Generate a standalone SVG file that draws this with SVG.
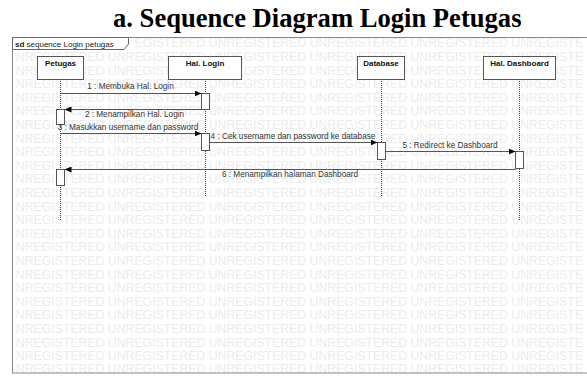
<svg xmlns="http://www.w3.org/2000/svg" width="587" height="376" viewBox="0 0 587 376">
<style>
.wm{font-family:"Liberation Sans",Arial,sans-serif;font-size:12.27px;fill:#ececec}
.title{font-family:"Liberation Serif","Times New Roman",serif;font-size:26.6px;font-weight:bold;fill:#000}
.box{fill:#fff;stroke:#555;stroke-width:1}
.lbl{font-family:"Liberation Sans",Arial,sans-serif;font-size:8px;font-weight:bold;fill:#111;text-anchor:middle}
.life{stroke:#444;stroke-width:1;stroke-dasharray:1,1;fill:none}
.act{fill:#fff;stroke:#555;stroke-width:1}
.msg{stroke:#555;stroke-width:1;fill:none;marker-end:url(#ah)}
.mt{font-family:"Liberation Sans",Arial,sans-serif;font-size:8.2px;fill:#333;text-anchor:middle}
.tab{font-family:"Liberation Sans",Arial,sans-serif;font-size:8px;fill:#222}
</style>
<defs>
<marker id="ah" markerUnits="userSpaceOnUse" markerWidth="7" markerHeight="6" refX="7" refY="3" orient="auto"><path d="M0,0 L7,3 L0,6 z" fill="#000"/></marker>
</defs>
<rect width="587" height="376" fill="#fff"/>
<text class="title" x="113" y="27">a. Sequence Diagram Login Petugas</text>
<g id="watermark">
<text class="wm" x="134.5" y="47.4">EGISTERED UNREGISTERED UNREGISTERED UNREGISTERED UNREGISTE</text>
<text class="wm" x="15.86" y="61">NREGISTERED UNREGISTERED UNREGISTERED UNREGISTERED UNREGISTERED UNREGISTE</text>
<text class="wm" x="15.86" y="74.6">NREGISTERED UNREGISTERED UNREGISTERED UNREGISTERED UNREGISTERED UNREGISTE</text>
<text class="wm" x="15.86" y="88.2">NREGISTERED UNREGISTERED UNREGISTERED UNREGISTERED UNREGISTERED UNREGISTE</text>
<text class="wm" x="15.86" y="101.8">NREGISTERED UNREGISTERED UNREGISTERED UNREGISTERED UNREGISTERED UNREGISTE</text>
<text class="wm" x="15.86" y="115.4">NREGISTERED UNREGISTERED UNREGISTERED UNREGISTERED UNREGISTERED UNREGISTE</text>
<text class="wm" x="15.86" y="129">NREGISTERED UNREGISTERED UNREGISTERED UNREGISTERED UNREGISTERED UNREGISTE</text>
<text class="wm" x="15.86" y="142.6">NREGISTERED UNREGISTERED UNREGISTERED UNREGISTERED UNREGISTERED UNREGISTE</text>
<text class="wm" x="15.86" y="156.2">NREGISTERED UNREGISTERED UNREGISTERED UNREGISTERED UNREGISTERED UNREGISTE</text>
<text class="wm" x="15.86" y="169.8">NREGISTERED UNREGISTERED UNREGISTERED UNREGISTERED UNREGISTERED UNREGISTE</text>
<text class="wm" x="15.86" y="183.4">NREGISTERED UNREGISTERED UNREGISTERED UNREGISTERED UNREGISTERED UNREGISTE</text>
<text class="wm" x="15.86" y="197">NREGISTERED UNREGISTERED UNREGISTERED UNREGISTERED UNREGISTERED UNREGISTE</text>
<text class="wm" x="15.86" y="210.6">NREGISTERED UNREGISTERED UNREGISTERED UNREGISTERED UNREGISTERED UNREGISTE</text>
<text class="wm" x="15.86" y="224.2">NREGISTERED UNREGISTERED UNREGISTERED UNREGISTERED UNREGISTERED UNREGISTE</text>
<text class="wm" x="15.86" y="237.8">NREGISTERED UNREGISTERED UNREGISTERED UNREGISTERED UNREGISTERED UNREGISTE</text>
<text class="wm" x="15.86" y="251.4">NREGISTERED UNREGISTERED UNREGISTERED UNREGISTERED UNREGISTERED UNREGISTE</text>
<text class="wm" x="15.86" y="265">NREGISTERED UNREGISTERED UNREGISTERED UNREGISTERED UNREGISTERED UNREGISTE</text>
<text class="wm" x="15.86" y="278.6">NREGISTERED UNREGISTERED UNREGISTERED UNREGISTERED UNREGISTERED UNREGISTE</text>
<text class="wm" x="15.86" y="292.2">NREGISTERED UNREGISTERED UNREGISTERED UNREGISTERED UNREGISTERED UNREGISTE</text>
<text class="wm" x="15.86" y="305.8">NREGISTERED UNREGISTERED UNREGISTERED UNREGISTERED UNREGISTERED UNREGISTE</text>
<text class="wm" x="15.86" y="319.4">NREGISTERED UNREGISTERED UNREGISTERED UNREGISTERED UNREGISTERED UNREGISTE</text>
<text class="wm" x="15.86" y="333">NREGISTERED UNREGISTERED UNREGISTERED UNREGISTERED UNREGISTERED UNREGISTE</text>
<text class="wm" x="15.86" y="346.6">NREGISTERED UNREGISTERED UNREGISTERED UNREGISTERED UNREGISTERED UNREGISTE</text>
<text class="wm" x="15.86" y="360.2">NREGISTERED UNREGISTERED UNREGISTERED UNREGISTERED UNREGISTERED UNREGISTE</text>
<text class="wm" x="15.86" y="372.6">NREGISTERED UNREGISTERED UNREGISTERED UNREGISTERED UNREGISTERED UNREGISTE</text>
</g>
<g id="frame">
<rect x="12.5" y="37.5" width="590" height="335.5" fill="none" stroke="#888" stroke-width="1"/>
<path d="M12.5,37.5 H128.5 V44 L124,49.5 H12.5 Z" fill="#fff" stroke="#666" stroke-width="1"/>
<text class="tab" x="15" y="46.5"><tspan font-weight="bold">sd</tspan> sequence Login petugas</text>
</g>
<g id="lifelines">
<line class="life" x1="60.5" y1="79" x2="60.5" y2="220"/>
<line class="life" x1="205.5" y1="79" x2="205.5" y2="197"/>
<line class="life" x1="381.5" y1="79" x2="381.5" y2="197"/>
<line class="life" x1="519.5" y1="79" x2="519.5" y2="220"/>
</g>
<g id="petugas">
<rect class="box" x="37.5" y="56.5" width="46" height="23"/>
<text class="lbl" x="60.5" y="66">Petugas</text>
</g>
<g id="hal-login">
<rect class="box" x="168.5" y="56.5" width="73" height="23"/>
<text class="lbl" x="205" y="66">Hal. Login</text>
</g>
<g id="database">
<rect class="box" x="357.5" y="56.5" width="47" height="23"/>
<text class="lbl" x="381" y="66">Database</text>
</g>
<g id="hal-dashboard">
<rect class="box" x="483.5" y="56.5" width="72" height="23"/>
<text class="lbl" x="519.5" y="66">Hal. Dashboard</text>
</g>
<g id="activations">
<rect class="act" x="201.5" y="93.5" width="8" height="16"/>
<rect class="act" x="56.5" y="109.5" width="8" height="15"/>
<rect class="act" x="201.5" y="133.5" width="8" height="17"/>
<rect class="act" x="377.5" y="142.5" width="8" height="17"/>
<rect class="act" x="515.5" y="151.5" width="8" height="17"/>
<rect class="act" x="56.5" y="169.5" width="8" height="16"/>
</g>
<g id="connectors">
<line class="msg" x1="60.5" y1="93.5" x2="201.5" y2="93.5"/>
<text class="mt" x="130.5" y="89">1 : Membuka Hal. Login</text>
<line class="msg" x1="201.5" y1="109.5" x2="64.5" y2="109.5"/>
<text class="mt" x="134.5" y="116.5">2 : Menampilkan Hal. Login</text>
<line class="msg" x1="60.5" y1="133.5" x2="201.5" y2="133.5"/>
<text class="mt" x="128" y="129.5">3 : Masukkan username dan password</text>
<line class="msg" x1="209.5" y1="142.5" x2="377.5" y2="142.5"/>
<text class="mt" x="293" y="139">4 : Cek username dan password ke database</text>
<line class="msg" x1="385.5" y1="151.5" x2="515.5" y2="151.5"/>
<text class="mt" x="450" y="148">5 : Redirect ke Dashboard</text>
<line class="msg" x1="515.5" y1="169.5" x2="64.5" y2="169.5"/>
<text class="mt" x="290" y="176.5">6 : Menampilkan halaman Dashboard</text>
</g>
</svg>
